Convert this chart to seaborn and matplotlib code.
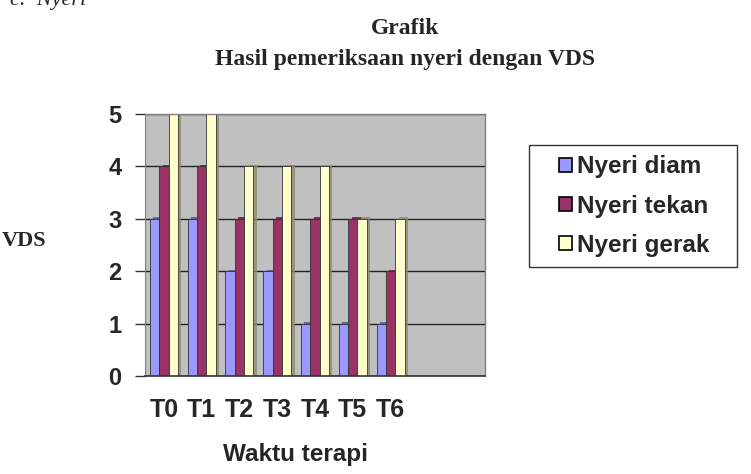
import matplotlib
matplotlib.use("Agg")
import matplotlib.pyplot as plt
import matplotlib.patheffects as pe
from matplotlib.patches import Rectangle
import seaborn as sns
import pandas as pd
import numpy as np

categories = ["T0", "T1", "T2", "T3", "T4", "T5", "T6"]
nyeri_diam = [3, 3, 2, 2, 1, 1, 1]
nyeri_tekan = [4, 4, 3, 3, 3, 3, 2]
nyeri_gerak = [5, 5, 4, 4, 4, 3, 3]
series_names = ["Nyeri diam", "Nyeri tekan", "Nyeri gerak"]
colors = ["#9999FF", "#993366", "#FFFFCC"]
yticks = [0, 1, 2, 3, 4, 5]

df = pd.DataFrame({
    "Waktu": categories * 3,
    "VDS": nyeri_diam + nyeri_tekan + nyeri_gerak,
    "Seri": [series_names[0]] * 7 + [series_names[1]] * 7 + [series_names[2]] * 7,
})

sns.set_style("white")
plt.rcParams["font.family"] = ["Liberation Sans", "DejaVu Sans"]

fig = plt.figure(figsize=(7.51, 4.74), dpi=100)
ax = fig.add_axes([145 / 751, 1 - 376 / 474, 340 / 751, 262 / 474])
ax.set_facecolor("#C0C0C0")

sns.barplot(data=df, x="Waktu", y="VDS", hue="Seri", order=categories,
            hue_order=series_names, palette=colors, width=0.74,
            edgecolor="#333333", linewidth=0.6, ax=ax, legend=True, saturation=1)

for p in ax.patches:
    p.set_path_effects([pe.SimplePatchShadow(offset=(2.5, 1.0), shadow_rgbFace=None,
                                             alpha=0.8, rho=0.55), pe.Normal()])

ax.set_xlim(-0.5, 8.5)
ax.set_ylim(0, 5)
ax.set_yticks(yticks)
ax.set_yticklabels([str(v) for v in yticks], fontsize=17, fontweight="bold")
ax.yaxis.grid(True, color="#222222", linewidth=1.0)
ax.set_axisbelow(True)

ax.set_xticks(range(len(categories)))
ax.set_xticklabels(categories, fontsize=18, fontweight="bold")
ax.set_xticks(np.arange(-0.5, 9.0, 1.0), minor=True)
ax.tick_params(axis="x", which="major", length=0, pad=16)
ax.tick_params(axis="x", which="minor", length=7, width=1, color="#333333", direction="out")
ax.tick_params(axis="y", length=7, width=1, color="#333333", direction="out", left=True, pad=10)

for s in ["top", "right"]:
    ax.spines[s].set_color("#808080")
    ax.spines[s].set_linewidth(1.0)
ax.spines["left"].set_color("#808080")
ax.spines["bottom"].set_color("#333333")
ax.spines["bottom"].set_linewidth(1.2)

ax.set_xlabel("Waktu terapi", fontsize=17.5, fontweight="bold")
ax.xaxis.set_label_coords(0.444, -0.255)
ax.set_ylabel("")

handles, labels = ax.get_legend_handles_labels()
ax.get_legend().remove()
# legend frame box
fig.patches.append(Rectangle((529 / 751, 1 - 267 / 474), 208 / 751, 122 / 474,
                             transform=fig.transFigure, facecolor="white",
                             edgecolor="#333333", linewidth=1.0, zorder=1))
leg = fig.legend(handles, labels, loc="center", bbox_to_anchor=(634 / 751, 1 - 206 / 474),
                 bbox_transform=fig.transFigure, frameon=False,
                 prop={"size": 17.5, "weight": "bold"},
                 handlelength=0.55, handleheight=0.55, handletextpad=0.2,
                 labelspacing=0.66, borderpad=0.0, borderaxespad=0)
leg.set_zorder(2)
for h in leg.legend_handles:
    h.set_edgecolor("black")
    h.set_linewidth(1.2)
    h.set_path_effects([])

fig.text(405 / 751, 1 - 29 / 474, "Grafik", ha="center", va="center",
         family=["Liberation Serif", "DejaVu Serif"], fontsize=17, fontweight="bold")
fig.text(405 / 751, 1 - 59 / 474, "Hasil pemeriksaan nyeri dengan VDS", ha="center", va="center",
         family=["Liberation Serif", "DejaVu Serif"], fontsize=17, fontweight="bold")
fig.text(2 / 751, 1 - 241 / 474, "VDS", ha="left", va="center",
         family=["Liberation Serif", "DejaVu Serif"], fontsize=16, fontweight="bold")
fig.text(10 / 751, 1 - 0 / 474, "c.  Nyeri", ha="left", va="center",
         family=["Liberation Serif", "DejaVu Serif"], fontsize=16, fontstyle="italic")

fig.savefig("out.png", dpi=100)
